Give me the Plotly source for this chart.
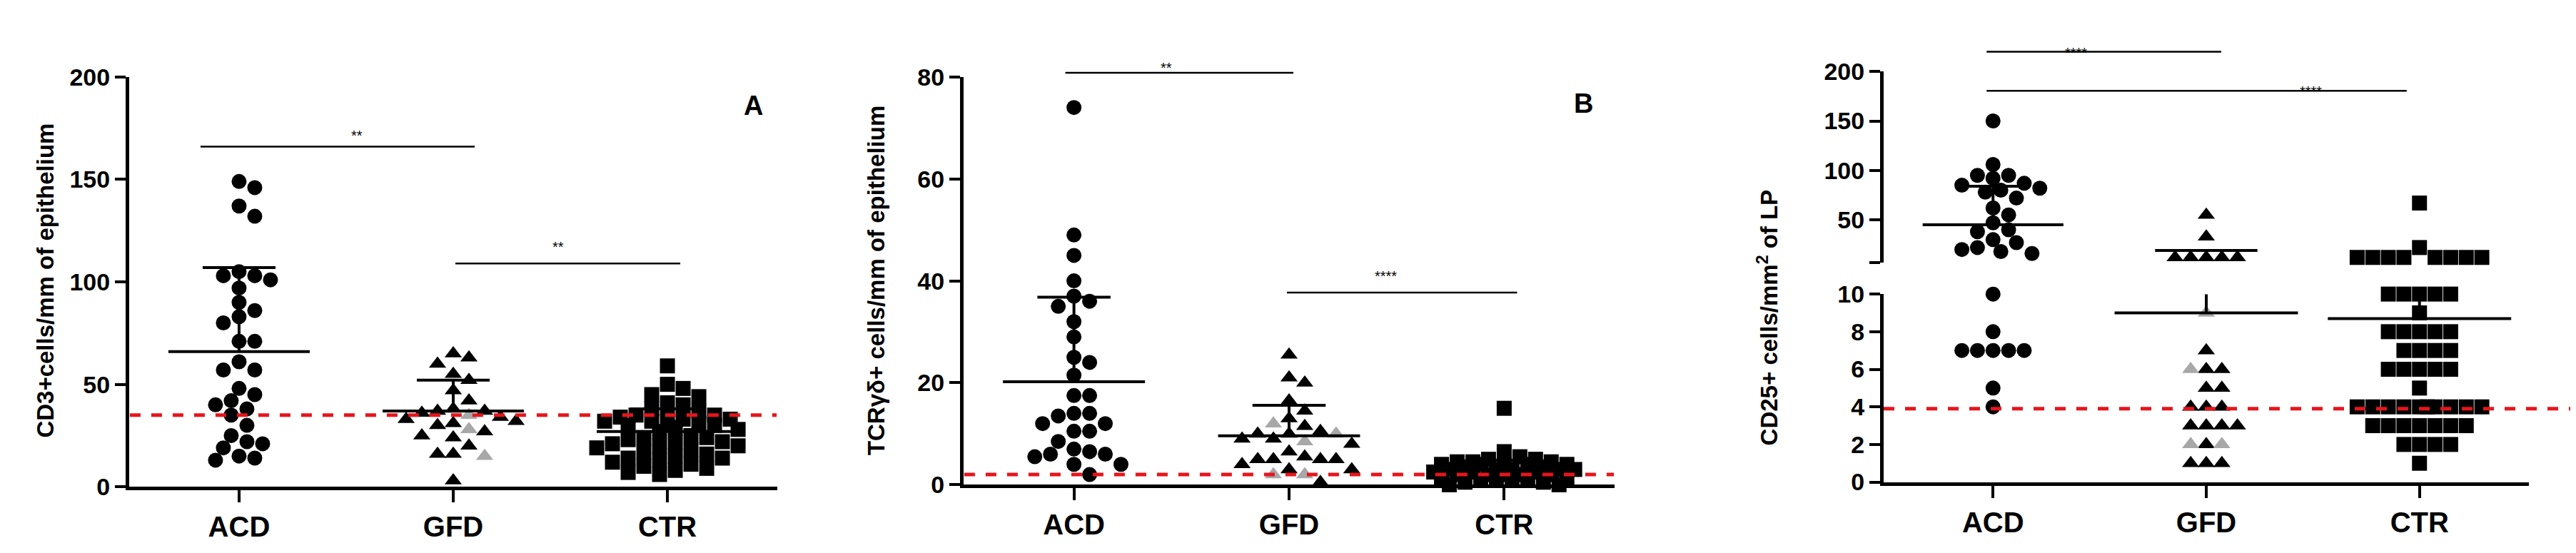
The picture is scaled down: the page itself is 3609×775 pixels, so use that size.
import plotly.graph_objects as go

cats = ["ACD", "GFD", "CTR"]

# panel A: CD3+ cells/mm of epithelium
a_acd = [149, 146, 137, 132, 105, 103, 103, 101, 97, 90, 86, 83, 80, 71, 71, 61, 57, 57,
         48, 45, 42, 40, 38, 35, 30, 25, 22, 21, 19, 15, 14, 13]
a_gfd = [65, 63, 60, 55, 52, 47, 42, 38, 37, 37, 36, 34, 33, 32, 31, 30, 27, 25, 24, 20, 16, 16, 3]
a_gfd_gray = [35, 28, 15]
a_ctr = [59, 50, 48, 45, 44, 41, 40, 38, 37, 35, 35, 34, 34, 33, 33, 32, 32, 31, 30, 30, 29, 28,
         27, 25, 24, 24, 23, 22, 22, 21, 20, 20, 19, 18, 17, 16, 15, 14, 14, 13, 12, 11, 10, 9, 8, 7, 6]
a_mean = [66, 37, 27]
a_sd_top = [107, 52, 38]
a_cut = 35

# panel B: TCRgd+ cells/mm of epithelium
b_acd = [74, 49, 45, 40, 37, 36, 35, 32, 29, 25, 24, 21.5, 17.5, 17.5, 14, 14, 13.5, 12, 12,
         10.5, 10.5, 8.5, 7, 6.5, 6, 6, 5.5, 4, 4, 2]
b_gfd = [25.5, 21, 20, 16.5, 14.5, 13, 11.5, 10.5, 10, 10, 9, 9, 8, 6.5, 5.5, 5, 5, 5, 5, 4, 3, 3, 0.5]
b_gfd_gray = [12, 10, 8.5, 2, 2]
b_ctr = [15, 6.5, 5.5, 5, 5, 4.5, 4.5, 4.5, 4, 4, 4, 4, 4, 3.5, 3.5, 3, 3, 3, 3, 3, 2.5, 2.5, 2.5,
         2, 2, 2, 2, 2, 1.5, 1.5, 1.5, 1, 1, 1, 0.5, 0.5, 0, 0]
b_mean = [20.2, 9.6, 3]
b_sd_top = [36.8, 15.6, 4.8]
b_cut = 2

# panel C: CD25+ cells/mm2 of LP (broken axis)
c_acd_hi = [150, 106, 95, 95, 92, 87, 85, 82, 80, 78, 72, 62, 55, 47, 40, 38, 30, 27, 22, 20, 18, 16]
c_acd_lo = [10, 8, 7, 7, 7, 7, 7, 5, 4]
c_gfd_hi = [55, 33, 12, 12, 12, 12, 12]
c_gfd_lo = [7, 6, 6, 5, 5, 4, 4, 4, 3, 3, 3, 3, 2, 1, 1, 1]
c_gfd_lo_gray = [9, 6, 2, 2]
c_ctr_hi = [67, 22, 12, 12, 12, 12, 12, 12, 12, 12]
c_ctr_lo = [10] * 5 + [9] + [8] * 5 + [7] * 4 + [6] * 5 + [5] + [4] * 10 + [3] * 7 + [2] * 4 + [1]
c_mean = [45, 9, 8.7]
c_sd_top = [84, 19, 10]
c_cut = 3.9

W, H = 3609, 775
FONT = "Liberation Sans, Arial, sans-serif"

# axis domains (pixels) and ranges
DOM = {
    "y": ((1 - 689 / H, 1 - 85 / H), (0, 200)),
    "y2": ((1 - 686 / H, 1 - 85 / H), (0, 80)),
    "y3": ((1 - 682 / H, 1 - 405 / H), (0, 10)),
    "y4": ((1 - 359 / H, 1 - 77 / H), (6.5, 200)),
}


def to_paper(ya, v):
    (d0, d1), (r0, r1) = DOM[ya]
    return d0 + (v - r0) / (r1 - r0) * (d1 - d0)


def swarm(vals, ppu, step=300, d=22, maxw=0.34):
    placed = []
    offs = []
    cand = [0]
    for k in range(1, 60):
        if k * d * 0.5 > maxw * step:
            break
        cand += [k * d * 0.5, -k * d * 0.5]
    for v in vals:
        y = v * ppu
        best, bestd = 0, -1
        for c in cand:
            md = min([((c - px) ** 2 + (y - py) ** 2) ** 0.5 for px, py in placed] or [1e9])
            if md >= d * 0.92:
                best = c
                break
            if md > bestd:
                best, bestd = c, md
        placed.append((best, y))
        offs.append(best / step)
    return offs


fig = go.Figure()


def add_group(i, black, gray, symbol, ppu, xa, ya, step):
    vals = [(v, False) for v in black] + [(v, True) for v in gray]
    vals.sort(key=lambda t: -t[0])
    offs = swarm([v for v, _ in vals], ppu, step)
    for g, col in [(False, "black"), (True, "#a8a8a8")]:
        xs = [i + o for o, (v, gg) in zip(offs, vals) if gg == g]
        ys = [v for v, gg in vals if gg == g]
        if xs:
            fig.add_trace(go.Scatter(x=xs, y=ys, mode="markers", xaxis=xa, yaxis=ya,
                                     cliponaxis=False,
                                     marker=dict(symbol=symbol, size=21, color=col, line_width=0)))


def add_line(x, y, xa, ya, color="black", width=4, dash=None):
    fig.add_trace(go.Scatter(x=x, y=y, mode="lines", xaxis=xa, yaxis=ya, cliponaxis=False,
                             line=dict(color=color, width=width, dash=dash)))


def add_stats(i, mean, top, xa, ya):
    add_line([i - 0.33, i + 0.33], [mean, mean], xa, ya)
    add_line([i, i], [mean, top], xa, ya)
    add_line([i - 0.17, i + 0.17], [top, top], xa, ya)


def sig_bar(xa, ya, x0, x1, v, tx, tv, text):
    fig.add_shape(type="line", xref=xa, yref="paper", x0=x0, x1=x1,
                  y0=to_paper(ya, v), y1=to_paper(ya, v), line=dict(color="black", width=2.5))
    fig.add_annotation(xref=xa, yref="paper", x=tx, y=to_paper(ya, tv), text=text, showarrow=False,
                       font=dict(family=FONT, size=20, color="black"))


symbols = ["circle", "triangle-up", "square"]

# panel A
for i, (blk, gry) in enumerate([(a_acd, []), (a_gfd, a_gfd_gray), (a_ctr, [])]):
    add_group(i, blk, gry, symbols[i], 3.02, "x", "y", 300)
for i in range(3):
    add_stats(i, a_mean[i], a_sd_top[i], "x", "y")
add_line([-0.51, 2.51], [a_cut, a_cut], "x", "y", "#e8141b", 5, "dash")
sig_bar("x", "y", -0.18, 1.10, 166, 0.55, 176, "**")
sig_bar("x", "y", 1.01, 2.06, 109, 1.49, 117, "**")

# panel B
for i, (blk, gry) in enumerate([(b_acd, []), (b_gfd, b_gfd_gray), (b_ctr, [])]):
    add_group(i, blk, gry, symbols[i], 7.51, "x2", "y2", 302)
for i in range(3):
    add_stats(i, b_mean[i], b_sd_top[i], "x2", "y2")
add_line([-0.51, 2.51], [b_cut, b_cut], "x2", "y2", "#e8141b", 5, "dash")
sig_bar("x2", "y2", -0.04, 1.02, 80.8, 0.43, 83.6, "**")
sig_bar("x2", "y2", 0.99, 2.06, 37.7, 1.45, 40.9, "****")

# panel C
for i, (blk, gry) in enumerate([(c_acd_lo, []), (c_gfd_lo, c_gfd_lo_gray), (c_ctr_lo, [])]):
    add_group(i, blk, gry, symbols[i], 27.7, "x3", "y3", 301)
for i, blk in enumerate([c_acd_hi, c_gfd_hi, c_ctr_hi]):
    add_group(i, blk, [], symbols[i], 1.46, "x4", "y4", 301)
for i in range(3):
    m, t = c_mean[i], c_sd_top[i]
    if m > 10:
        add_stats(i, m, t, "x4", "y4")
    else:
        add_line([i - 0.43, i + 0.43], [m, m], "x3", "y3")
        add_line([i, i], [m, 10], "x3", "y3")
        if t > 10:
            add_line([i - 0.24, i + 0.24], [t, t], "x4", "y4")
sig_bar("x4", "y4", -0.03, 1.07, 220, 0.39, 228, "****")
sig_bar("x4", "y4", -0.03, 1.94, 180.5, 1.49, 189, "****")
fig.add_shape(type="line", xref="paper", yref="y3", x0=2631 / W, x1=3595 / W, y0=c_cut, y1=c_cut,
              line=dict(color="#e8141b", width=5, dash="dash"))

# panel letters
for xa, ya, x, y, t in [("x", "y", 2.40, 194, "A"), ("x2", "y2", 2.37, 78, "B"), ("x4", "y4", 2.52, 188, "C")]:
    fig.add_annotation(xref=xa, yref="paper", x=x, y=to_paper(ya, y), text=t, showarrow=False,
                       font=dict(family=FONT, size=38, color="black", weight="bold"))

titles = [(35, 385, "CD3+cells/mm of epithelium"),
          (1219, 385, "TCRγδ+ cells/mm of epithelium"),
          (2492, 440, "CD25+ cells/mm<sup>2</sup> of LP")]
for x, y, t in titles:
    fig.add_annotation(xref="paper", yref="paper", x=x / W, y=1 - y / H, text=t, textangle=-90,
                       showarrow=False, font=dict(family=FONT, size=33, color="black", weight="bold"))

tickfont = dict(family=FONT, size=34, color="black", weight="bold")
catfont = dict(family=FONT, size=40, color="black", weight="bold")
xcommon = dict(range=[-0.513, 2.513], tickmode="array", tickvals=[0, 1, 2], ticktext=cats,
               showline=True, linecolor="black", linewidth=5, ticks="outside", ticklen=17,
               tickwidth=4, tickcolor="black", showgrid=False, zeroline=False, tickfont=catfont)
ycommon = dict(showline=True, linecolor="black", linewidth=5, ticks="outside", ticklen=15,
               tickwidth=4, tickcolor="black", showgrid=False, zeroline=False, tickfont=tickfont)

fig.update_layout(
    width=W, height=H, showlegend=False, plot_bgcolor="white", paper_bgcolor="white",
    margin=dict(l=0, r=0, t=0, b=0),
    xaxis=dict(domain=[173 / W, 1081 / W], anchor="y", **xcommon),
    yaxis=dict(domain=DOM["y"][0], anchor="x", range=DOM["y"][1], dtick=50, **ycommon),
    xaxis2=dict(domain=[1342 / W, 2254 / W], anchor="y2", **xcommon),
    yaxis2=dict(domain=DOM["y2"][0], anchor="x2", range=DOM["y2"][1], dtick=20, **ycommon),
    xaxis3=dict(domain=[2631 / W, 3535 / W], anchor="y3", **xcommon),
    yaxis3=dict(domain=DOM["y3"][0], anchor="x3", range=DOM["y3"][1], dtick=2, **ycommon),
    xaxis4=dict(domain=[2631 / W, 3535 / W], anchor="y4", range=[-0.513, 2.513], visible=False),
    yaxis4=dict(domain=DOM["y4"][0], anchor="x4", range=DOM["y4"][1],
                tickmode="array", tickvals=[6.5, 50, 100, 150, 200], ticktext=["", "50", "100", "150", "200"],
                **ycommon),
)

fig.write_html("out.html")
